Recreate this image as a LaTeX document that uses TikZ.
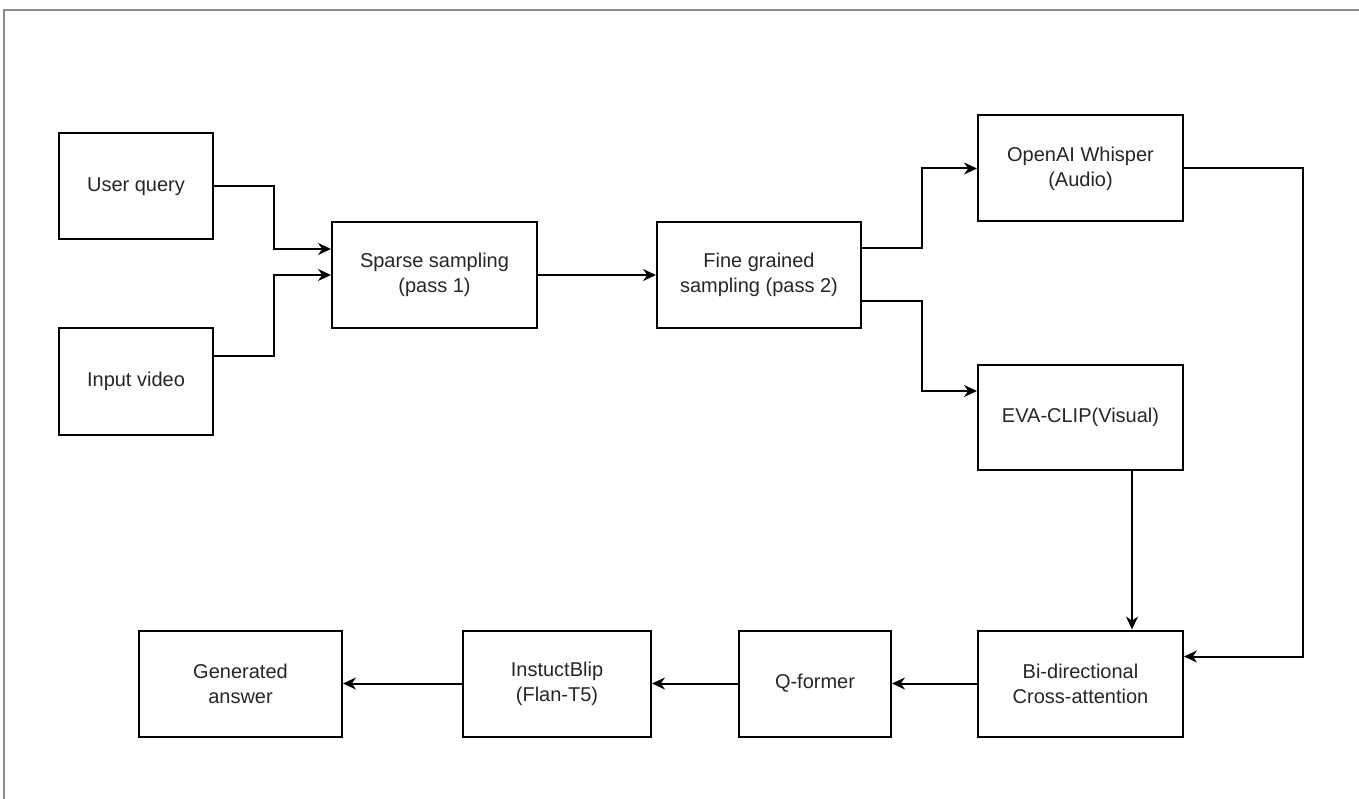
\documentclass[tikz,border=0pt]{standalone}
\usepackage{fontspec}
\setmainfont{Liberation Sans}
\usetikzlibrary{arrows.meta, positioning}

\begin{document}
\begin{tikzpicture}[
x=1pt, y=-1pt,
every node/.style={draw, rectangle, align=center, line width=2pt, text=black!85,
  minimum width=205pt, minimum height=106pt, font=\fontsize{20}{25}\selectfont},
arrow/.style={-{Stealth[length=13pt, width=12pt]}, line width=2pt}
]
\useasboundingbox (0,0) rectangle (1359,799);
\draw[line width=2pt, black!45] (4,799) -- (4,10) -- (1359,10);

\node (user) at (136,186.5) [minimum width=154pt] {User query};
\node (video) [below=87pt of user, minimum width=154pt] {Input video};
\node (sparse) at (434.5,275) {Sparse sampling\\(pass 1)};
\node (fine) [right=118pt of sparse, minimum width=204pt] {Fine grained\\sampling (pass 2)};
\node (whisper) at (1080.5,168.5) {OpenAI Whisper\\(Audio)};
\node (eva) [below=141pt of whisper, minimum height=105pt] {EVA-CLIP(Visual)};
\node (bidir) [below=159pt of eva] {Bi-directional\\Cross-attention};
\node (qformer) [left=85pt of bidir, minimum width=152pt] {Q-former};
\node (blip) [left=86pt of qformer, minimum width=188pt] {InstuctBlip\\(Flan-T5)};
\node (answer) [left=119pt of blip, minimum width=203pt] {Generated\\answer};

\draw[arrow] (user.east) -- ++(60,0) |- ([yshift=26pt]sparse.west);
\draw[arrow] ([yshift=26pt]video.east) -- ++(60,0) |- (sparse.west);
\draw[arrow] (sparse) -- (fine);
\draw[arrow] ([yshift=27pt]fine.east) -- ++(60,0) |- (whisper.west);
\draw[arrow] ([yshift=-26pt]fine.east) -- ++(60,0) |- ([yshift=26pt]eva.west);
\draw[arrow] (whisper.east) -- ++(119,0) |- ([yshift=27pt]bidir.east);
\draw[arrow] ([xshift=51.5pt]eva.south) -- ([xshift=51.5pt]bidir.north);
\draw[arrow] (bidir) -- (qformer);
\draw[arrow] (qformer) -- (blip);
\draw[arrow] (blip) -- (answer);

\end{tikzpicture}
\end{document}
